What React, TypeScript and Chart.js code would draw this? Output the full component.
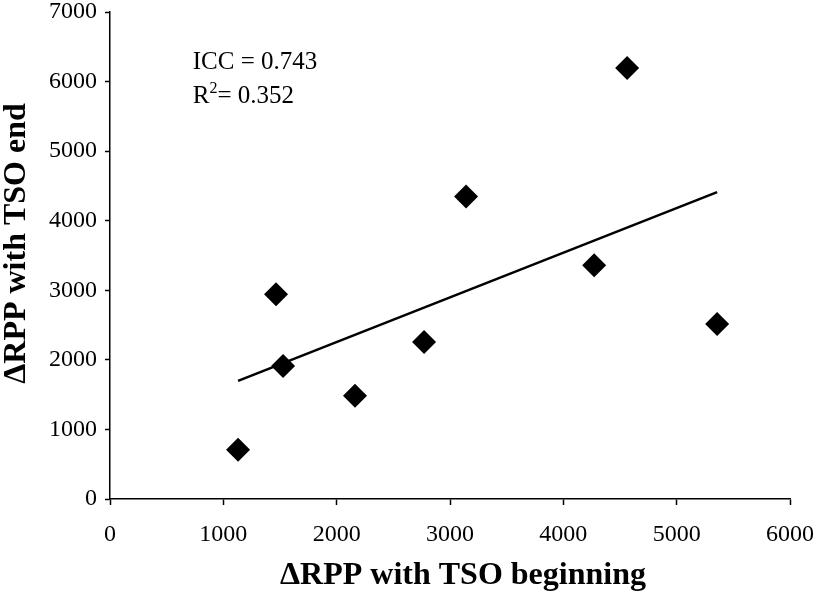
import React, { useEffect, useRef } from 'react';
import { Chart, registerables } from 'chart.js';

Chart.register(...registerables);

// ---- data ----
const xBeginning = [1130, 1465, 1527, 2162, 2771, 3142, 4272, 4563, 5357];
const yEnd = [709, 2944, 1913, 1483, 2256, 4348, 3360, 6196, 2514];
const trendX = [1130, 5357];
const trendY = [1698, 4410];

const xMin = 0, xMax = 6000, xStep = 1000;
const yMin = 0, yMax = 7000, yStep = 1000;

const xTitle = 'ΔRPP with TSO beginning';
const yTitle = 'ΔRPP with TSO end';

const iccLabel = 'ICC = 0.743';
const r2Base = 'R';
const r2Sup = '2';
const r2Rest = '= 0.352';
const annotX = 730;
const annotY = [6180, 5695];

const SERIF = '"Liberation Serif", "Times New Roman", serif';

const textPlugin = {
  id: 'customText',
  afterDraw(chart: any) {
    const { ctx, chartArea } = chart;
    const xs = chart.scales.x;
    const ys = chart.scales.y;
    ctx.save();
    ctx.fillStyle = '#000';

    // annotation
    ctx.font = `25px ${SERIF}`;
    ctx.textAlign = 'left';
    ctx.textBaseline = 'alphabetic';
    const ax = xs.getPixelForValue(annotX);
    ctx.fillText(iccLabel, ax, ys.getPixelForValue(annotY[0]));
    const by = ys.getPixelForValue(annotY[1]);
    ctx.fillText(r2Base, ax, by);
    let cx = ax + ctx.measureText(r2Base).width;
    ctx.font = `16px ${SERIF}`;
    ctx.fillText(r2Sup, cx, by - 10);
    cx += ctx.measureText(r2Sup).width;
    ctx.font = `25px ${SERIF}`;
    ctx.fillText(r2Rest, cx, by);

    // axis titles
    ctx.font = `bold 32px ${SERIF}`;
    ctx.textAlign = 'center';
    ctx.fillText(xTitle, (chartArea.left + chartArea.right) / 2 + 13, chart.height - 8);
    ctx.translate(25, (chartArea.top + chartArea.bottom) / 2 - 12);
    ctx.rotate(-Math.PI / 2);
    ctx.fillText(yTitle, 0, 0);
    ctx.restore();
  },
};

export default function App() {
  const canvasRef = useRef<HTMLCanvasElement | null>(null);

  useEffect(() => {
    if (!canvasRef.current) return;
    const tickFont = { family: SERIF, size: 24 };
    const chart = new Chart(canvasRef.current, {
      type: 'scatter',
      data: {
        datasets: [
          {
            label: 'trend',
            data: trendX.map((x, i) => ({ x, y: trendY[i] })),
            showLine: true,
            borderColor: '#000',
            borderWidth: 2.5,
            pointRadius: 0,
            fill: false,
          },
          {
            label: 'points',
            data: xBeginning.map((x, i) => ({ x, y: yEnd[i] })),
            pointStyle: 'rectRot',
            pointRadius: 12,
            pointHoverRadius: 12,
            backgroundColor: '#000',
            borderColor: '#000',
            borderWidth: 0,
          },
        ],
      },
      options: {
        animation: false,
        responsive: true,
        maintainAspectRatio: false,
        layout: { padding: { top: 10, right: 23, left: 0, bottom: 0 } },
        plugins: { legend: { display: false }, tooltip: { enabled: false } },
        scales: {
          x: {
            type: 'linear',
            min: xMin,
            max: xMax,
            ticks: {
              stepSize: xStep,
              color: '#000',
              font: tickFont,
              padding: 15,
              maxRotation: 0,
              callback: (v: any) => String(v),
            },
            grid: { drawOnChartArea: false, drawTicks: true, tickLength: 6, color: '#000', tickWidth: 1.5 },
            border: { display: true, color: '#000', width: 1.5 },
            afterFit: (s: any) => {
              s.height = 93;
              s.paddingLeft = 0;
              s.paddingRight = 0;
            },
          },
          y: {
            type: 'linear',
            min: yMin,
            max: yMax,
            ticks: {
              stepSize: yStep,
              color: '#000',
              font: tickFont,
              padding: 8,
              callback: (v: any) => String(v),
            },
            grid: { drawOnChartArea: false, drawTicks: true, tickLength: 5, color: '#000', tickWidth: 1.5 },
            border: { display: true, color: '#000', width: 1.5 },
            afterFit: (s: any) => {
              s.width = 110;
              s.paddingTop = 0;
              s.paddingBottom = 0;
            },
          },
        },
      },
      plugins: [textPlugin],
    } as any);
    return () => chart.destroy();
  }, []);

  return (
    <div style={{ position: 'absolute', left: 0, top: 0, width: 813, height: 592, background: '#fff' }}>
      <canvas ref={canvasRef} />
    </div>
  );
}
